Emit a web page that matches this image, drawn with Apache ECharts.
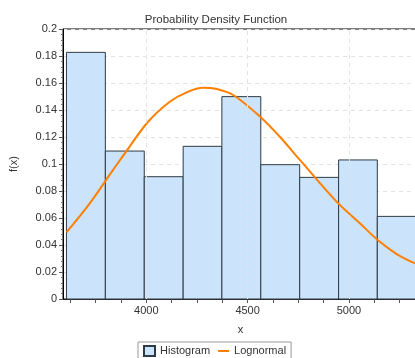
<!DOCTYPE html>
<html>
<head>
<meta charset="utf-8">
<script src="https://cdn.jsdelivr.net/npm/echarts@6/dist/echarts.min.js"></script>
<style>
  html, body { margin: 0; padding: 0; background: #fff; }
  #chart { width: 415px; height: 358px; }
</style>
</head>
<body>
<div id="chart"></div>
<script>
// histogram bins: left edge, right edge, density
const binEdges = [3606, 3798, 3990, 4182, 4373, 4565, 4757, 4949, 5140, 5332];
const binDensity = [0.1827, 0.1096, 0.0906, 0.1131, 0.1499, 0.0995, 0.0901, 0.103, 0.0612];

// lognormal fit
const curveX = [3606, 3721, 3836, 3902, 4009, 4116, 4199, 4280, 4347, 4429, 4567, 4659, 4758, 4939, 5054, 5142, 5236, 5326];
const curveY = [0.0494, 0.0709, 0.0956, 0.1096, 0.1313, 0.1461, 0.1531, 0.1565, 0.1556, 0.1511, 0.1343, 0.1202, 0.103, 0.0721, 0.0561, 0.0437, 0.0333, 0.0264];

const xLabels = [4000, 4500, 5000];
const xMinorTicks = [3625, 3750, 3875, 4000, 4125, 4250, 4375, 4500, 4625, 4750, 4875, 5000, 5125, 5250, 5375];

const font = "Liberation Sans, Arial, sans-serif";
const textColor = "#333";

const chart = echarts.init(document.getElementById("chart"), null, { renderer: "canvas" });

const bins = binDensity.map((d, i) => [binEdges[i], binEdges[i + 1], d]);

chart.setOption({
  animation: false,
  backgroundColor: "#fff",
  title: {
    text: "Probability Density Function",
    left: 211,
    top: 9,
    textAlign: "center",
    textStyle: { fontFamily: font, fontSize: 11.5, fontWeight: "normal", color: textColor },
  },
  legend: {
    left: 138,
    top: 342,
    data: [
      { name: "Histogram", icon: "rect" },
      { name: "Lognormal", icon: "path://M0,0L11,0L11,2L0,2Z" },
    ],
    borderColor: "#999",
    borderWidth: 1,
    padding: [3, 5, 3, 5],
    itemWidth: 11,
    itemHeight: 10,
    itemGap: 8,
    textStyle: { fontFamily: font, fontSize: 11, color: textColor },
  },
  grid: {
    left: 63,
    right: -15,
    top: 29,
    bottom: 59,
    outerBoundsMode: "none",
    show: true,
    borderColor: "#000",
    borderWidth: 1,
    backgroundColor: "transparent",
  },
  xAxis: {
    type: "value",
    min: 3589,
    max: 5400,
    name: "x",
    nameLocation: "middle",
    nameGap: 25,
    nameTextStyle: { fontFamily: font, fontSize: 11, color: textColor, padding: [0, 12, 0, 0] },
    axisLine: { show: true, lineStyle: { color: "#222", width: 1 } },
    axisTick: { show: true, customValues: xMinorTicks, length: 4, lineStyle: { color: "#555" } },
    axisLabel: {
      customValues: xLabels,
      margin: 6,
      fontFamily: font,
      fontSize: 11,
      color: textColor,
      formatter: (v) => String(v),
    },
    splitLine: { show: false },
  },
  yAxis: {
    type: "value",
    min: 0,
    max: 0.2,
    interval: 0.02,
    name: "f(x)",
    nameLocation: "middle",
    nameGap: 44,
    nameTextStyle: { fontFamily: font, fontSize: 11, color: textColor },
    axisLine: { show: true, lineStyle: { color: "#000", width: 1 } },
    axisTick: { show: true, length: 4, lineStyle: { color: "#555" } },
    minorTick: { show: true, splitNumber: 5, length: 2, lineStyle: { color: "#777" } },
    axisLabel: { margin: 6, fontFamily: font, fontSize: 11, color: textColor },
    splitLine: { show: true, lineStyle: { color: "#e2e2e2", type: [4, 4] } },
  },
  series: [
    {
      name: "grid",
      type: "line",
      data: [],
      z: 1,
      silent: true,
      markLine: {
        symbol: "none",
        silent: true,
        label: { show: false },
        lineStyle: { color: "#e2e2e2", type: [4, 4], width: 1 },
        data: xLabels.map((v) => ({ xAxis: v })),
      },
    },
    {
      name: "Histogram",
      type: "custom",
      z: 2,
      data: bins,
      encode: { x: [0, 1], y: 2 },
      itemStyle: { color: "#cce4fb", borderColor: "#2e3a44", borderWidth: 1 },
      renderItem: (params, api) => {
        const p0 = api.coord([api.value(0), api.value(2)]);
        const p1 = api.coord([api.value(1), 0]);
        return {
          type: "rect",
          shape: { x: p0[0], y: p0[1], width: p1[0] - p0[0], height: p1[1] - p0[1] },
          style: { fill: "#cce4fb", stroke: "#2e3a44", lineWidth: 1 },
        };
      },
    },
    {
      name: "Lognormal",
      type: "line",
      z: 3,
      smooth: 0.35,
      symbol: "none",
      data: curveX.map((x, i) => [x, curveY[i]]),
      lineStyle: { color: "#ff7f00", width: 2 },
      itemStyle: { color: "#ff7f00" },
    },
  ],
});
</script>
</body>
</html>
